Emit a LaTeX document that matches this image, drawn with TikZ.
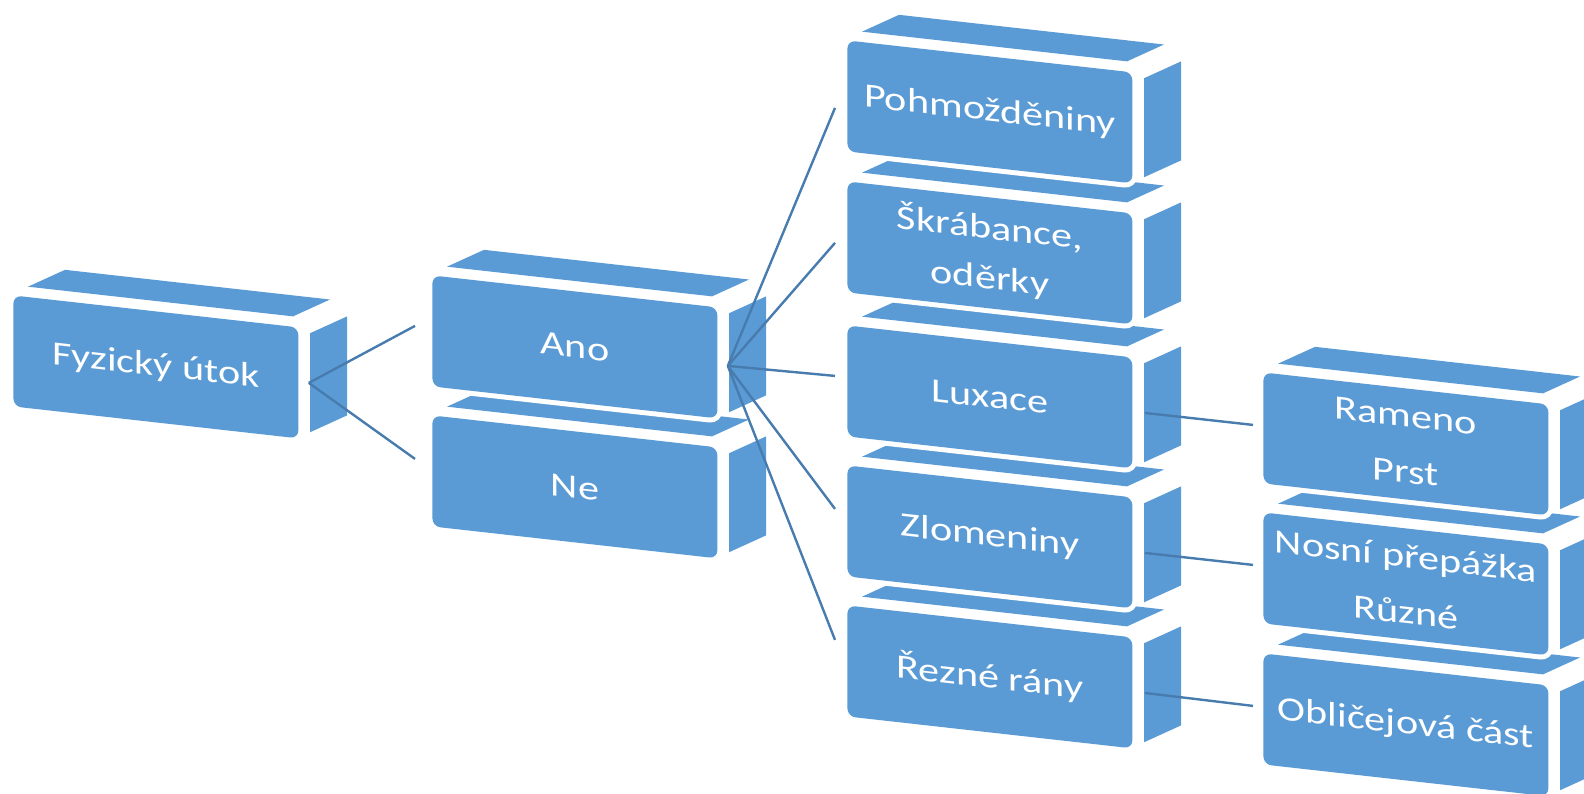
\documentclass[tikz,border=0pt]{standalone}
\usepackage{fontspec}
\setmainfont{Carlito}[FakeStretch=1.24]
\usetikzlibrary{calc}

\definecolor{faceblue}{RGB}{91,155,213}
\definecolor{linkblue}{RGB}{72,124,174}

\tikzset{
  face/.style={fill=faceblue},
  front/.style={fill=faceblue, text=white, rounded corners=4pt,
    minimum width=142.5pt, minimum height=55.5pt, inner sep=0pt,
    align=center, transform shape, font=\fontsize{17pt}{23pt}\selectfont,
    preaction={draw=white, line width=5pt}},
  link/.style={draw=linkblue, line width=1.2pt}
}

% one block: name, x, y (top left of the front face), text
\newcommand{\block}[4]{%
  \begin{scope}[shift={(#2,#3)}, yslant=-0.112]
    \fill[face] (15,-10) -- (280,-10) -- (317,-31) -- (52,-31) -- cycle;
    \fill[face] (297,5) -- (334,-16) -- (334,83) -- (297,104) -- cycle;
    \node[front, anchor=north west] (#1) at (0,0) {#4};
  \end{scope}}

\begin{document}
\begin{tikzpicture}[x=0.5pt, y=-0.5pt]
  \useasboundingbox (0,0) rectangle (1584,793);

  \block{fyz}{13}{295}{Fyzický útok}
  \block{ne}{432}{415}{Ne}
  \block{ano}{432}{275}{Ano}

  \block{rez}{847}{605}{Řezné rány}
  \block{zlom}{847}{465}{Zlomeniny}
  \block{lux}{847}{325}{Luxace}
  \block{skrab}{847}{181}{Škrábance,\\[2pt]oděrky}
  \block{pohm}{847}{40}{Pohmožděniny}

  \block{obl}{1263}{653}{Obličejová část}
  \block{nos}{1263}{512}{Nosní přepážka\\[5pt]Různé}
  \block{ram}{1263}{372}{Rameno\\[5pt]Prst}

  % connectors
  \draw[link] ($(fyz.east)+(10,0)$) -- ($(ano.west)+(-17,-5)$);
  \draw[link] ($(fyz.east)+(10,0)$) -- ($(ne.west)+(-17,-12)$);
  \foreach \t/\dy in {pohm/12, skrab/6, lux/-5, zlom/-12, rez/-21}
    \draw[link] ($(ano.east)+(10,3)$) -- ($(\t.west)+(-12,\dy)$);
  \foreach \s/\t in {lux/ram, zlom/nos, rez/obl}
    \draw[link] ($(\s.east)+(12,0)$) -- ($(\t.west)+(-10,-3)$);
\end{tikzpicture}
\end{document}
